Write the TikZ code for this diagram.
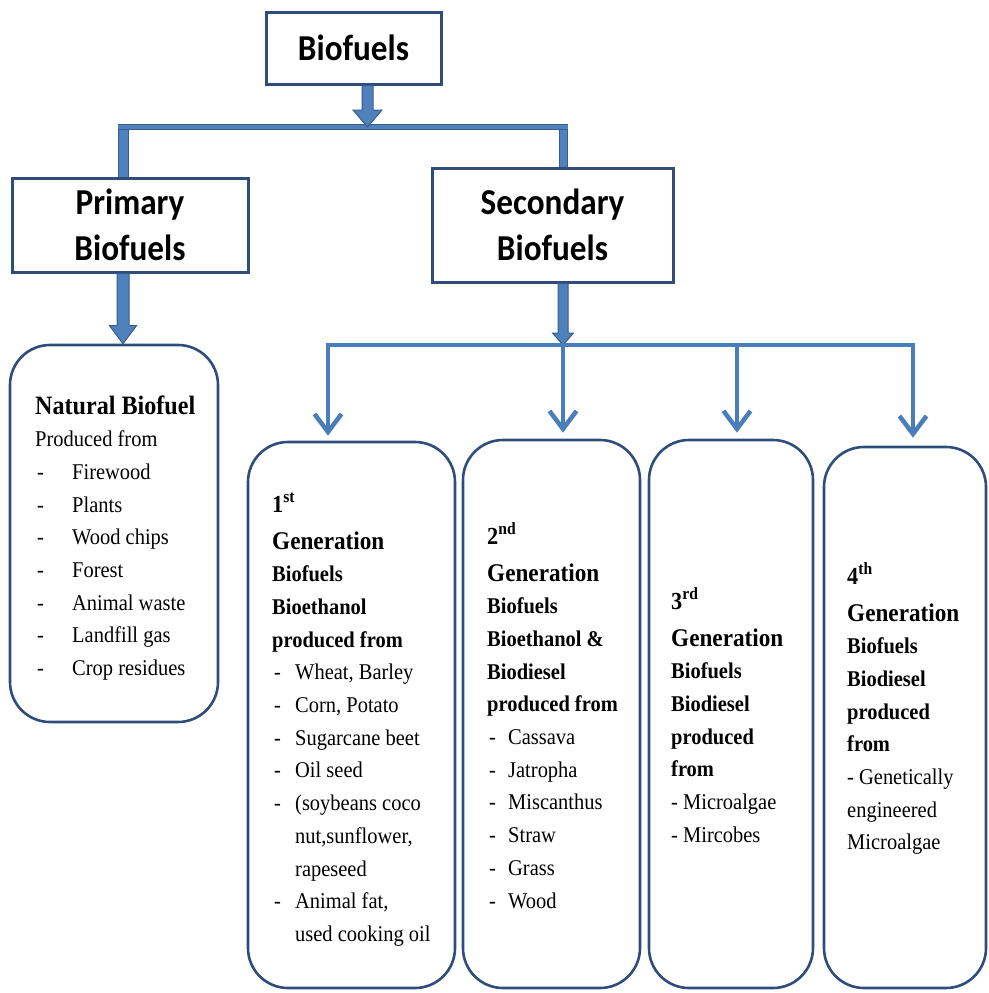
\documentclass[tikz,border=0pt]{standalone}
\usepackage{fontspec}
\setmainfont{Liberation Serif}[FakeStretch=0.91]
\newfontfamily\calib{Carlito}[FakeStretch=0.91]
\usetikzlibrary{arrows.meta,calc}
\definecolor{fillb}{HTML}{4F81BD}
\definecolor{edgeb}{HTML}{385D8A}
\definecolor{navy}{HTML}{2E4D7B}
\definecolor{lineb}{HTML}{4A7EBB}
\newcommand{\dsh}[2]{\makebox[#1][l]{\hspace{#2}-}}
\newcommand{\gen}{\fontsize{25.5}{30}\selectfont\bfseries}
\newcommand{\numf}{\fontsize{24.5}{28}\selectfont\bfseries}
\newcommand{\blockarrow}[6]{%
  \draw[blk] let \p1=($(#1)+(#3,0)$), \p2=(#2) in
    (\x1-#4,\y1) -- (\x1-#4,\y2+#6) -- (\x1-#5,\y2+#6) -- (\x1,\y2)
    -- (\x1+#5,\y2+#6) -- (\x1+#4,\y2+#6) -- (\x1+#4,\y1) -- cycle;}
\tikzset{
  topbox/.style={draw=navy, line width=3pt, fill=white, inner sep=0pt,
    font=\calib\bfseries\fontsize{36.5}{46}\selectfont, align=center},
  rbox/.style={draw=navy, line width=2.6pt, rounded corners=40pt, inner sep=0pt},
  txt/.style={anchor=base west, inner sep=0pt, font=\fontsize{22.5}{32.7}\selectfont},
  pipe/.style={draw=edgeb, double=fillb, line width=1pt},
  blk/.style={fill=fillb, draw=edgeb, line width=1pt, line join=miter},
  thinarr/.style={draw=lineb, line width=4.5pt, -{Straight Barb[length=18pt,width=27pt]}}
}
\begin{document}
\begin{tikzpicture}[x=1pt,y=-1pt]
\useasboundingbox (0,0) rectangle (988,993);
% top boxes
\node[topbox, minimum width=175pt, minimum height=72pt] (bio) at (353.5,48) {Biofuels};
\node[topbox, minimum width=236pt, minimum height=94pt] (prim) at (130,225) {Primary\\Biofuels};
\node[topbox, minimum width=241pt, minimum height=114pt] (sec) at (552.5,225) {Secondary\\Biofuels};
% rounded boxes
\node[rbox, minimum width=208pt, minimum height=377pt] (nat) at (114,533.5) {};
\node[rbox, minimum width=207pt, minimum height=546pt] (g1) at (351.5,715) {};
\node[rbox, minimum width=177pt, minimum height=548pt] (g2) at (551.5,714) {};
\node[rbox, minimum width=164pt, minimum height=548pt] (g3) at (731,714) {};
\node[rbox, minimum width=162pt, minimum height=541pt] (g4) at (905,717.5) {};
% texts
\node[txt] (natT) at (35,414) {\begin{tabular}[t]{@{}l@{}}
{\fontsize{26.5}{30}\selectfont\bfseries Natural Biofuel}\\
Produced from\\
\dsh{37pt}{2pt}Firewood\\
\dsh{37pt}{2pt}Plants\\
\dsh{37pt}{2pt}Wood chips\\
\dsh{37pt}{2pt}Forest\\
\dsh{37pt}{2pt}Animal waste\\
\dsh{37pt}{2pt}Landfill gas\\
\dsh{37pt}{2pt}Crop residues
\end{tabular}};
\node[txt] (g1T) at (272,512) {\begin{tabular}[t]{@{}l@{}}
{\numf 1\textsuperscript{st}}\\[4.3pt]
{\gen Generation}\\
\textbf{Biofuels}\\
\textbf{Bioethanol}\\
\textbf{produced from}\\
\dsh{23pt}{2pt}Wheat, Barley\\
\dsh{23pt}{2pt}Corn, Potato\\
\dsh{23pt}{2pt}Sugarcane beet\\
\dsh{23pt}{2pt}Oil seed\\
\dsh{23pt}{2pt}(soybeans coco\\
\hspace{23pt}nut,sunflower,\\
\hspace{23pt}rapeseed\\
\dsh{23pt}{2pt}Animal fat,\\
\hspace{23pt}used cooking oil
\end{tabular}};
\node[txt] (g2T) at (487,544) {\begin{tabular}[t]{@{}l@{}}
{\numf 2\textsuperscript{nd}}\\[4.3pt]
{\gen Generation}\\
\textbf{Biofuels}\\
\textbf{Bioethanol \&}\\
\textbf{Biodiesel}\\
\textbf{produced from}\\
\dsh{21pt}{2pt}Cassava\\
\dsh{21pt}{2pt}Jatropha\\
\dsh{21pt}{2pt}Miscanthus\\
\dsh{21pt}{2pt}Straw\\
\dsh{21pt}{2pt}Grass\\
\dsh{21pt}{2pt}Wood
\end{tabular}};
\node[txt] (g3T) at (671,609) {\begin{tabular}[t]{@{}l@{}}
{\numf 3\textsuperscript{rd}}\\[4.3pt]
{\gen Generation}\\
\textbf{Biofuels}\\
\textbf{Biodiesel}\\
\textbf{produced}\\
\textbf{from}\\
- Microalgae\\
- Mircobes
\end{tabular}};
\node[txt] (g4T) at (847,584) {\begin{tabular}[t]{@{}l@{}}
{\numf 4\textsuperscript{th}}\\[4.3pt]
{\gen Generation}\\
\textbf{Biofuels}\\
\textbf{Biodiesel}\\
\textbf{produced}\\
\textbf{from}\\
- Genetically\\
engineered\\
Microalgae
\end{tabular}};
% junction coordinates
\coordinate (jt) at (367.5,127);
\coordinate (bl) at (118,127);
\coordinate (br) at (568,127);
\coordinate (vl) at (123,124.5);
\coordinate (vr) at (563,124.5);
\coordinate (c1) at (328,345);
\coordinate (c2) at (563,345);
\coordinate (c3) at (737,345);
\coordinate (c4) at (913,345);
% upper connectors
\draw[pipe, double distance=9pt] (vl) -- (vl |- prim.north);
\draw[pipe, double distance=7pt] (vr) -- (vr |- sec.north);
\draw[pipe, double distance=3.5pt] (bl) -- (br);
\blockarrow{bio.south}{jt}{14}{5.5pt}{14.5pt}{17pt}
\blockarrow{prim.south}{nat.north}{-7}{6pt}{13.5pt}{18pt}
\blockarrow{sec.south}{c2}{10.5}{5pt}{10.5pt}{12pt}
% lower connectors
\draw[thinarr, shorten >=5pt] (c2) -| (c1 |- g1.north);
\draw[thinarr, shorten >=6pt] (c2) -- (c2 |- g2.north);
\draw[thinarr, shorten >=6pt] (c3) -- (c3 |- g3.north);
\draw[thinarr, shorten >=8pt] (c2) -| (c4 |- g4.north);
\end{tikzpicture}
\end{document}
